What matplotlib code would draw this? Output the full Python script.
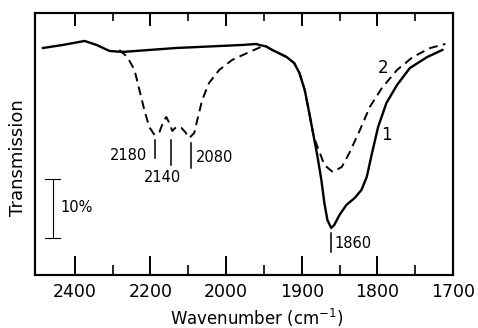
import numpy as np
import matplotlib
matplotlib.use("Agg")
import matplotlib.pyplot as plt

# ---- data (wavenumber cm^-1, relative transmission %) ----
w1 = [2484, 2432, 2374, 2342, 2308, 2274, 2132, 1979, 1960, 1956, 1947, 1939,
      1920, 1910, 1903, 1896, 1890, 1884, 1879, 1874, 1870, 1866, 1861, 1857,
      1850, 1841, 1830, 1821, 1814, 1807, 1799, 1788, 1774, 1757, 1734, 1714]
t1 = [38.47, 38.98, 39.66, 38.98, 37.97, 37.80, 38.47, 38.98, 39.15, 38.98, 38.73, 38.14,
      36.95, 35.93, 34.24, 31.36, 27.46, 23.39, 20.0, 16.1, 12.2, 9.32, 7.97, 8.47,
      10.17, 11.86, 13.05, 14.41, 16.61, 20.68, 25.08, 29.15, 32.20, 35.08, 36.95, 38.14]

w2 = [2282, 2261, 2242, 2229, 2216, 2203, 2189, 2176, 2166, 2158, 2150, 2142, 2132,
      2118, 2108, 2097, 2084, 2076, 2063, 2045, 2018, 1992, 1969, 1954, 1947, 1939,
      1920, 1910, 1903, 1896, 1890, 1884, 1879, 1870, 1859, 1847, 1837, 1823,
      1810, 1794, 1774, 1753, 1730, 1710]
t2 = [38.14, 36.95, 34.75, 31.36, 27.97, 25.08, 23.73, 24.24, 25.93, 26.78, 25.76, 24.41, 25.08,
      24.92, 24.24, 23.22, 24.07, 26.27, 29.66, 32.54, 34.75, 36.44, 37.80, 38.64, 38.73, 38.14,
      36.95, 35.93, 34.24, 31.36, 27.46, 23.39, 21.69, 18.64, 17.46, 18.31, 20.68, 24.58,
      28.47, 31.69, 34.75, 36.95, 38.47, 39.15]

peak_labels = ["2180", "2140", "2080", "1860"]
peak_pos = [2188, 2145, 2092, 1861]
xticks_major = [2400, 2200, 2000, 1900, 1800, 1700]
xticks_minor = [2300, 2100, 1950, 1850, 1750]


def fwd(x):
    x = np.asarray(x, dtype=float)
    return np.where(x > 2000, 2000 + (x - 2000) / 2.0, x)


def inv(y):
    y = np.asarray(y, dtype=float)
    return np.where(y > 2000, 2000 + (y - 2000) * 2.0, y)


fig = plt.figure(figsize=(4.78, 3.28), dpi=100)
ax = fig.add_axes([35/478, 1 - 275/328, (453 - 35)/478, (275 - 13)/328])
ax.set_xscale('function', functions=(fwd, inv))
ax.set_xlim(2505, 1700)
ax.set_ylim(0, 44.4)

ax.plot(w2, t2, color='black', lw=1.4, dashes=(4.5, 2.8))
ax.plot(w1, t1, color='black', lw=1.7, solid_joinstyle='round')

for sp in ax.spines.values():
    sp.set_linewidth(1.5)

ax.set_yticks([])
ax.set_xticks(xticks_major)
ax.set_xticklabels([str(v) for v in xticks_major], fontsize=12.5)
ax.set_xticks(xticks_minor, minor=True)
ax.tick_params(axis='x', which='major', direction='in', length=14, width=1.4, pad=6)
ax.tick_params(axis='x', which='minor', direction='in', length=7, width=1.2)

top = ax.twiny()
top.set_xscale('function', functions=(fwd, inv))
top.set_xlim(2505, 1700)
top.set_xticks(xticks_major)
top.set_xticks(xticks_minor, minor=True)
top.set_xticklabels([])
top.tick_params(axis='x', which='major', direction='in', length=9, width=1.4)
top.tick_params(axis='x', which='minor', direction='in', length=6, width=1.2)
for sp in top.spines.values():
    sp.set_linewidth(1.5)

# peak markers and labels
ax.plot([peak_pos[0]] * 2, [19.8, 22.9], color='black', lw=1.1)
ax.text(2208, 20.3, peak_labels[0], ha='right', va='center', fontsize=10.5)
ax.plot([peak_pos[1]] * 2, [18.6, 22.9], color='black', lw=1.1)
ax.text(2168, 16.6, peak_labels[1], ha='center', va='center', fontsize=10.5)
ax.plot([peak_pos[2]] * 2, [18.1, 22.4], color='black', lw=1.1)
ax.text(2079, 19.9, peak_labels[2], ha='left', va='center', fontsize=10.5)
ax.plot([peak_pos[3]] * 2, [3.9, 7.1], color='black', lw=1.1)
ax.text(1857, 5.4, peak_labels[3], ha='left', va='center', fontsize=10.5)

# curve labels
ax.text(1793, 35.1, "2", ha='center', va='center', fontsize=12)
ax.text(1788, 23.7, "1", ha='center', va='center', fontsize=12)

# 10% scale bar
ax.plot([2458, 2458], [6.3, 16.3], color='black', lw=0.8)
ax.plot([2478, 2438], [16.3, 16.3], color='black', lw=0.8)
ax.plot([2478, 2438], [6.3, 6.3], color='black', lw=0.8)
ax.text(2438, 11.4, "10%", ha='left', va='center', fontsize=10.5)

fig.text(18/478, 1 - 158/328, "Transmission", rotation=90, ha='center', va='center', fontsize=13)
fig.text(257/478, 1 - 318/328, "Wavenumber (cm$^{-1}$)", ha='center', va='center', fontsize=12)

fig.savefig("out.png", dpi=100)
